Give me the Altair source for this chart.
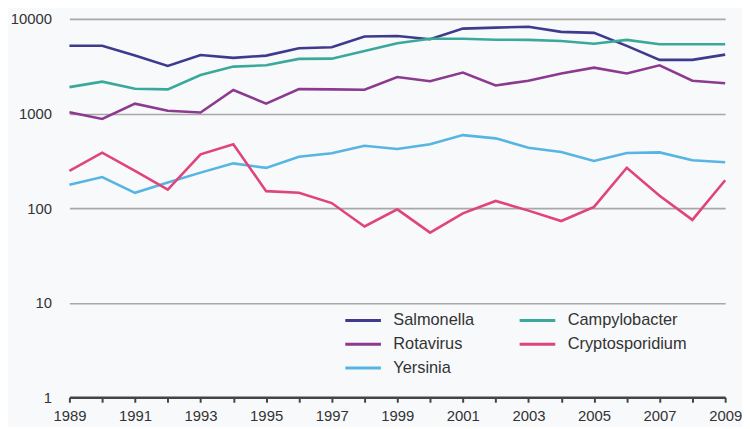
import altair as alt
import pandas as pd

years = list(range(1989, 2010))
salmonella = [5200, 5200, 4100, 3180, 4150, 3870, 4090, 4900, 5020, 6520, 6600,
              6100, 7890, 8080, 8270, 7290, 7120, 5190, 3690, 3690, 4190]
campylobacter = [1900, 2170, 1830, 1800, 2550, 3130, 3230, 3780, 3800, 4570, 5520,
                 6180, 6180, 6030, 6000, 5850, 5450, 6000, 5400, 5400, 5400]
rotavirus = [1030, 875, 1270, 1070, 1025, 1770, 1270, 1810, 1800, 1780, 2430,
             2190, 2710, 1980, 2220, 2650, 3050, 2650, 3230, 2220, 2090]
yersinia = [176, 213, 145, 186, 237, 297, 266, 349, 379, 456, 421,
            472, 591, 546, 435, 392, 315, 382, 388, 320, 305]
cryptosporidium = [247, 385, 247, 157, 370, 472, 151, 145, 113, 64, 97,
                   55, 88, 119, 94, 73, 103, 267, 135, 75, 197]

# legend is filled column by column: first column Salmonella, Rotavirus, Yersinia
series_names = ["Salmonella", "Rotavirus", "Yersinia", "Campylobacter", "Cryptosporidium"]
series_values = [salmonella, rotavirus, yersinia, campylobacter, cryptosporidium]
series_colors = ["#3e3b8f", "#8c3a90", "#56b5e3", "#3aa99b", "#e0447c"]
y_ticks = [1, 10, 100, 1000, 10000]

rows = []
for name, vals in zip(series_names, series_values):
    for yr, v in zip(years, vals):
        rows.append({"year": yr, "series": name, "value": v})
df = pd.DataFrame(rows)

FONT = "Liberation Sans"

chart = alt.Chart(df).mark_line(strokeWidth=2.6).encode(
    x=alt.X("year:Q",
            scale=alt.Scale(domain=[1989, 2009], nice=False, zero=False),
            axis=alt.Axis(values=years, title=None, grid=False,
                          labelExpr="datum.value % 2 == 1 ? datum.value : ''",
                          domainColor="#444444", domainWidth=2.5,
                          tickColor="#444444", tickWidth=2, tickSize=5,
                          labelPadding=6, labelFontSize=15, labelFont=FONT,
                          labelColor="#333333", labelFlush=False)),
    y=alt.Y("value:Q",
            scale=alt.Scale(type="log", domain=[1, 10000], nice=False),
            axis=alt.Axis(values=y_ticks, format="d", title=None, grid=True,
                          gridColor="#a8a8a8", gridWidth=1.6, domain=False,
                          ticks=False, labelPadding=18, labelFontSize=15,
                          labelFont=FONT, labelColor="#333333")),
    color=alt.Color("series:N",
                    scale=alt.Scale(domain=series_names, range=series_colors),
                    sort=series_names,
                    legend=alt.Legend(title=None, orient="none", legendX=286, legendY=294,
                                      columns=2, columnPadding=39, rowPadding=5,
                                      symbolType="M-2,0L2,0", symbolSize=324,
                                      symbolStrokeWidth=3, labelOffset=20,
                                      labelFontSize=16.5, labelFont=FONT,
                                      labelColor="#333333", padding=0)),
).properties(
    width=662, height=382,
    background="#f8f9fb",
    padding={"left": 62, "top": 9, "right": 17, "bottom": 28},
    autosize=alt.AutoSizeParams(type="none"),
).configure_view(stroke=None)

chart.save("out.html", embed_options={"renderer": "svg", "actions": False})
